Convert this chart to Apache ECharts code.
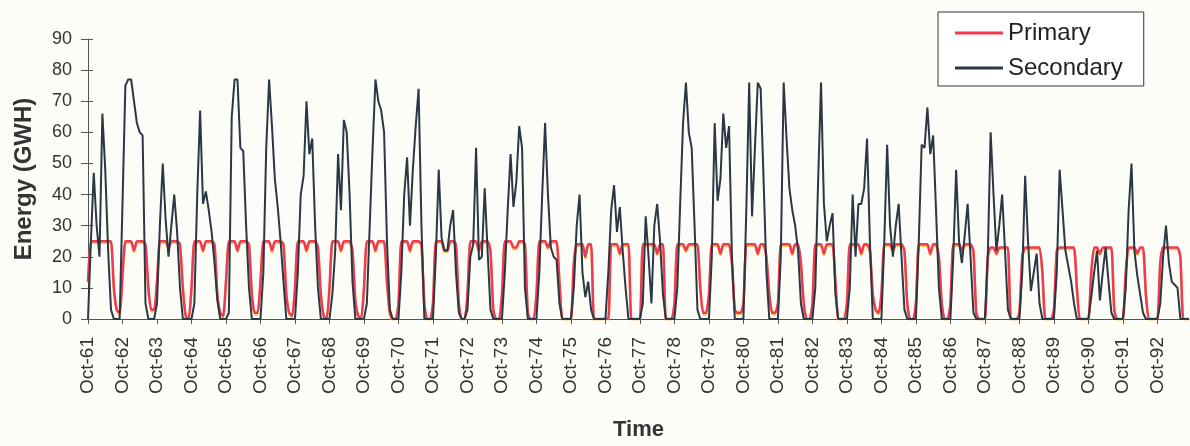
<!DOCTYPE html>
<html>
<head>
<meta charset="utf-8">
<script src="https://cdn.jsdelivr.net/npm/echarts@6/dist/echarts.min.js"></script>
<style>
  html, body { margin: 0; padding: 0; background: #fdfdf7; }
  #chart { width: 1190px; height: 446px; }
</style>
</head>
<body>
<div id="chart"></div>
<script>
// Month names of a water year (Oct..Sep) and the first year (two-digit)
const monthNames = ['Oct','Nov','Dec','Jan','Feb','Mar','Apr','May','Jun','Jul','Aug','Sep'];
const firstYear = 61;
const yearCount = 32;

// Primary energy (GWH), one row per water year Oct..Sep
const primary = [
  12,25,25,25,25,25,25,25,25,10,3,2,    // 61-62
  14,25,25,25,22,25,25,25,24,10,3,3,    // 62-63
  12,25,25,25,23,25,25,25,24,10,1,0,    // 63-64
  10,25,25,25,22,25,25,25,24,8,2,1,     // 64-65
  12,25,25,25,22,25,25,25,24,8,2,2,     // 65-66
  12,25,25,25,22,25,25,25,24,8,2,1,     // 66-67
  10,25,25,25,22,25,25,25,23,8,1,0,     // 67-68
  10,25,25,25,22,25,25,25,22,6,1,0,     // 68-69
  10,25,25,25,22,25,25,25,12,2,0,0,     // 69-70
  5,25,25,25,22,25,25,25,24,5,0,0,      // 70-71
  5,25,25,25,22,22,25,25,24,5,0,0,      // 71-72
  8,25,25,25,22,25,25,25,22,3,0,0,      // 72-73
  8,25,25,25,23,23,25,25,24,2,0,0,      // 73-74
  8,25,25,25,23,25,25,25,12,0,0,0,      // 74-75
  0,18,24,24,24,20,24,24,0,0,0,0,       // 75-76
  0,0,24,24,24,21,24,24,24,0,0,0,       // 76-77
  0,24,24,24,24,24,21,24,24,0,0,0,      // 77-78
  5,24,24,24,22,24,24,24,24,10,2,2,     // 78-79
  8,24,24,24,21,24,24,24,18,3,2,2,      // 79-80
  5,24,24,24,24,21,24,24,20,8,2,2,      // 80-81
  5,24,24,24,24,21,24,24,18,5,0,0,      // 81-82
  5,24,24,24,21,24,24,24,12,0,0,0,      // 82-83
  5,24,24,24,24,21,24,24,22,8,3,2,      // 83-84
  8,24,24,24,22,24,24,24,22,5,0,0,      // 84-85
  5,24,24,24,24,21,24,24,20,5,0,0,      // 85-86
  5,24,24,24,22,24,24,24,22,2,0,0,      // 86-87
  0,20,23,23,21,23,23,23,23,0,0,0,      // 87-88
  2,20,23,23,23,23,23,23,15,0,0,0,      // 88-89
  3,22,23,23,23,23,23,23,10,0,0,0,      // 89-90
  0,15,23,23,21,23,23,23,23,3,0,0,      // 90-91
  0,15,23,23,23,21,23,23,8,0,0,0,       // 91-92
  0,18,23,23,23,23,23,23,20,0,0,0       // 92-93
];

// Secondary energy (GWH), one row per water year Oct..Sep
const secondary = [
  0,25,47,30,20,66,48,22,3,0,0,0,       // 61-62
  37,75,77,77,70,63,60,59,5,0,0,0,      // 62-63
  5,30,50,32,20,30,40,28,10,0,0,0,      // 63-64
  0,5,40,67,37,41,35,28,18,6,0,0,       // 64-65
  0,2,65,77,77,55,54,30,10,0,0,0,       // 65-66
  0,15,55,77,62,45,36,25,12,0,0,0,      // 66-67
  0,15,40,46,70,53,58,30,10,0,0,0,      // 67-68
  0,8,22,53,35,64,60,40,12,0,0,0,       // 68-69
  0,5,30,55,77,70,67,60,25,3,0,0,       // 69-70
  0,15,40,52,30,48,62,74,30,0,0,0,      // 70-71
  0,20,48,26,22,22,30,35,15,2,0,0,      // 71-72
  3,20,24,55,19,20,42,22,3,0,0,0,       // 72-73
  0,15,35,53,36,44,62,55,10,0,0,0,      // 73-74
  0,15,40,63,40,23,20,19,5,0,0,0,       // 74-75
  0,10,30,40,15,7,12,3,0,0,0,0,         // 75-76
  0,15,35,43,28,36,22,10,0,0,0,0,       // 76-77
  0,5,33,20,5,30,37,25,8,0,0,0,         // 77-78
  0,10,37,63,76,60,55,30,3,0,0,0,       // 78-79
  0,20,63,38,45,66,55,62,20,0,0,0,      // 79-80
  0,35,76,33,55,76,74,45,15,0,0,0,      // 80-81
  0,20,76,58,42,35,30,22,5,0,0,0,       // 81-82
  0,10,45,76,37,25,30,34,8,0,0,0,       // 82-83
  0,10,40,20,37,37,42,58,25,0,0,0,      // 83-84
  0,25,56,30,20,30,37,20,3,0,0,0,       // 84-85
  0,25,56,55,68,53,59,35,10,0,0,0,      // 85-86
  0,20,48,25,18,27,37,20,2,0,0,0,       // 86-87
  0,20,60,40,22,30,40,22,3,0,0,0,       // 87-88
  0,15,46,25,9,15,21,5,0,0,0,0,         // 88-89
  0,15,48,35,22,17,12,5,0,0,0,0,        // 89-90
  0,7,15,22,6,15,23,12,2,0,0,0,         // 90-91
  0,10,35,50,22,14,8,2,0,0,0,0,         // 91-92
  0,5,20,30,18,12,11,10,0,0,0,0         // 92-93
];

// y-axis range
const yMin = 0, yMax = 90, yStep = 10;

// Build month-year category labels such as "Oct-61"
const categories = [];
for (let y = 0; y < yearCount; y++) {
  for (let m = 0; m < 12; m++) {
    const yr = (m < 3) ? firstYear + y : firstYear + y + 1;
    categories.push(monthNames[m] + '-' + String(yr % 100).padStart(2, '0'));
  }
}

const FONT = 'Liberation Sans, Arial, Helvetica, sans-serif';
const RED = '#ee3a55';
const DARK = '#2a3846';
const chart = echarts.init(document.getElementById('chart'), null, { renderer: 'canvas' });
chart.setOption({
  backgroundColor: '#fdfdf7',
  animation: false,
  grid: { left: 88, right: 1, top: 39, bottom: 125, containLabel: false },
  legend: {
    orient: 'vertical',
    left: 938, top: 12,
    padding: [8, 21, 5, 17],
    itemGap: 9,
    itemWidth: 48, itemHeight: 3,
    borderColor: '#333', borderWidth: 1,
    backgroundColor: '#ffffff',
    textStyle: { fontFamily: FONT, fontSize: 24, color: '#222', lineHeight: 26 },
    data: [
      { name: 'Primary', icon: 'rect', itemStyle: { color: RED } },
      { name: 'Secondary', icon: 'rect', itemStyle: { color: DARK } }
    ]
  },
  xAxis: {
    type: 'category',
    data: categories,
    boundaryGap: false,
    name: 'Time',
    nameLocation: 'middle',
    nameGap: 100,
    nameTextStyle: { fontFamily: FONT, fontSize: 22, fontWeight: 'bold', color: '#333' },
    axisLine: { lineStyle: { color: '#555', width: 1 } },
    axisTick: { show: true, interval: 11, length: 5, lineStyle: { color: '#555' } },
    axisLabel: { interval: 11, rotate: 90, margin: 18, fontFamily: FONT, fontSize: 19, color: '#333' },
    splitLine: { show: false }
  },
  yAxis: [{
    type: 'value',
    min: yMin, max: yMax, interval: yStep,
    name: 'Energy (GWH)',
    nameLocation: 'middle',
    nameGap: 52,
    nameTextStyle: { fontFamily: FONT, fontSize: 24, fontWeight: 'bold', color: '#333' },
    axisLine: { show: true, lineStyle: { color: '#555', width: 1 } },
    axisTick: { show: true, length: 7, lineStyle: { color: '#555' } },
    axisLabel: { margin: 16, fontFamily: FONT, fontSize: 18, color: '#333' },
    splitLine: { show: false }
  }, {
    type: 'value',
    min: yMin, max: yMax, interval: yStep,
    position: 'left',
    axisLine: { show: false },
    axisTick: { show: true, inside: true, length: 5, lineStyle: { color: '#555' } },
    axisLabel: { show: false },
    splitLine: { show: false }
  }],
  series: [{
    name: 'Primary',
    type: 'line',
    data: primary,
    symbol: 'none',
    smooth: 0.2,
    color: RED,
    lineStyle: { width: 2.5, color: RED, shadowColor: 'rgba(250,190,40,0.8)', shadowOffsetY: 1.5, shadowBlur: 0 },
    z: 2
  }, {
    name: 'Secondary',
    type: 'line',
    data: secondary,
    symbol: 'none',
    color: DARK,
    lineStyle: { width: 2, color: DARK },
    z: 3
  }]
});
</script>
</body>
</html>
